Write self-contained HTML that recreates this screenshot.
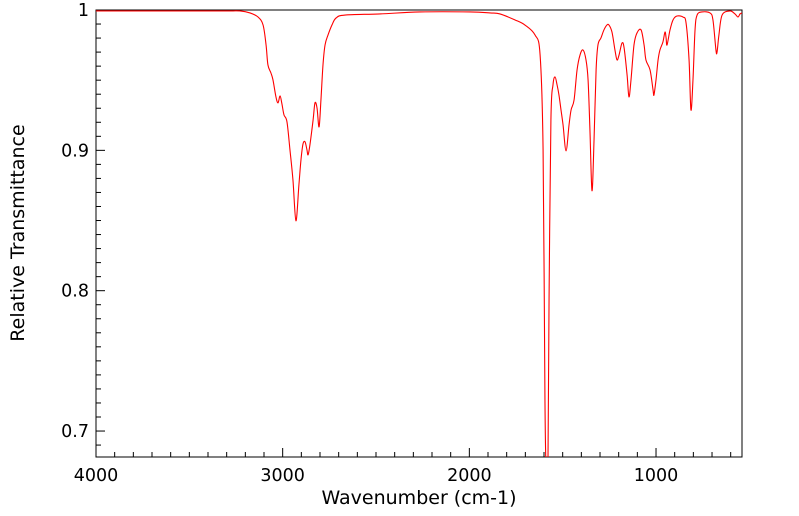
<!DOCTYPE html>
<html><head><meta charset="utf-8"><style>
html,body{margin:0;padding:0;background:#fff;}
svg{display:block;font-family:"DejaVu Sans","Liberation Sans",sans-serif;}
</style></head><body>
<svg id="chart" width="799" height="516" viewBox="0 0 799 516" xmlns="http://www.w3.org/2000/svg">
<defs><clipPath id="plotclip"><rect x="96" y="10" width="646" height="447"/></clipPath></defs>
<g id="axes"></g>
<g id="series" clip-path="url(#plotclip)"></g>
<text x="419" y="504" font-size="19" text-anchor="middle">Wavenumber (cm-1)</text>
<text transform="translate(24,233) rotate(-90)" font-size="19" text-anchor="middle">Relative Transmittance</text>
</svg>
<script>
const wavenumbers=[4000,3700,3450,3300,3229,3175,3132,3105,3089,3079,3063,3052,3036,3025,3014,3004,2993,2977,2961,2945,2929,2913,2902,2891,2880,2870,2864,2854,2837,2827,2816,2805,2795,2784,2773,2757,2736,2714,2666,2479,2264,1996,1889,1836,1755,1702,1648,1621,1605,1595,1589,1579,1573,1563,1552,1541,1530,1520,1509,1498,1482,1466,1455,1439,1423,1407,1391,1375,1364,1354,1343,1332,1321,1311,1295,1279,1263,1252,1236,1220,1209,1198,1182,1171,1155,1145,1134,1118,1102,1080,1064,1054,1032,1016,1011,1000,989,979,963,952,946,941,925,909,888,855,839,823,813,802,791,780,754,711,695,679,673,663,646,604,577,561,550,539];
const transmittance=[0.9993,0.9993,0.9993,0.9993,0.9993,0.9979,0.9950,0.9893,0.9751,0.9609,0.9552,0.9502,0.9381,0.9338,0.9388,0.9331,0.9253,0.9203,0.9004,0.8790,0.8498,0.8754,0.8932,0.9046,0.9060,0.9004,0.8968,0.9039,0.9217,0.9338,0.9302,0.9167,0.9359,0.9609,0.9751,0.9822,0.9893,0.9943,0.9964,0.9972,0.9986,0.9986,0.9979,0.9972,0.9929,0.9893,0.9822,0.9680,0.9004,0.7224,0.6730,0.6730,0.7936,0.9217,0.9466,0.9523,0.9466,0.9395,0.9288,0.9181,0.8996,0.9181,0.9288,0.9359,0.9573,0.9680,0.9715,0.9644,0.9502,0.9146,0.8712,0.9075,0.9573,0.9751,0.9801,0.9858,0.9893,0.9893,0.9843,0.9715,0.9644,0.9680,0.9765,0.9730,0.9537,0.9381,0.9502,0.9751,0.9836,0.9858,0.9751,0.9644,0.9573,0.9431,0.9395,0.9502,0.9644,0.9715,0.9772,0.9843,0.9801,0.9751,0.9858,0.9929,0.9957,0.9950,0.9907,0.9644,0.9288,0.9502,0.9858,0.9964,0.9986,0.9979,0.9929,0.9715,0.9701,0.9822,0.9964,0.9993,0.9972,0.9950,0.9972,0.9979];
const xTickLabels=[4000,3000,2000,1000];
const yTickLabels=[0.7,0.8,0.9,1];
const xMin=539.4,xMax=4000,yMin=0.6815,yMax=1.0;
const L=96,R=742,T=10,B=457;
function xs(v){return L+(xMax-v)/(xMax-xMin)*(R-L);}
function ys(v){return T+(yMax-v)/(yMax-yMin)*(B-T);}
const NS="http://www.w3.org/2000/svg";
const axes=document.getElementById('axes');
function mk(tag,attrs,parent){const e=document.createElementNS(NS,tag);for(const k in attrs)e.setAttribute(k,attrs[k]);parent.appendChild(e);return e;}
const frame=mk('rect',{x:L,y:T,width:R-L,height:B-T,fill:'none',stroke:'#000','stroke-width':1},axes);


for(let w=600;w<=4000;w+=100){
  const x=xs(w);const major=(w%1000===0);
  const t=mk('line',{x1:x,x2:x,y1:B,y2:B-(major?9:5),stroke:'#000','stroke-width':1},axes);
  
  
}
xTickLabels.forEach(v=>{
  const t=mk('text',{x:xs(v),y:481,'font-size':17.5,'text-anchor':'middle'},axes);
  t.textContent=String(v);
  
  
});
for(let i=69;i<=100;i++){
  const v=i/100;const y=ys(v);const major=(i%10===0);
  if(y>B+0.5)continue;
  const t=mk('line',{x1:L,x2:L+(major?9:5),y1:y,y2:y,stroke:'#000','stroke-width':1},axes);
  
  
}
yTickLabels.forEach(v=>{
  const t=mk('text',{x:89,y:ys(v)+6,'font-size':17.5,'text-anchor':'end'},axes);
  t.textContent=String(v);
  
  
});
const P=wavenumbers.map((w,i)=>[xs(w),ys(transmittance[i])]);
let d='M'+P[0][0].toFixed(2)+','+P[0][1].toFixed(2);
for(let i=0;i<P.length-1;i++){
  const p0=P[Math.max(0,i-1)],p1=P[i],p2=P[i+1],p3=P[Math.min(P.length-1,i+2)];
  const c1x=p1[0]+(p2[0]-p0[0])/6,c1y=p1[1]+(p2[1]-p0[1])/6;
  const c2x=p2[0]-(p3[0]-p1[0])/6,c2y=p2[1]-(p3[1]-p1[1])/6;
  d+=' C'+c1x.toFixed(2)+','+c1y.toFixed(2)+' '+c2x.toFixed(2)+','+c2y.toFixed(2)+' '+p2[0].toFixed(2)+','+p2[1].toFixed(2);
}
const line=mk('path',{d:d,fill:'none',stroke:'#ff0000','stroke-width':1.1,'stroke-linejoin':'round'},document.getElementById('series'));


</script>
</body></html>
